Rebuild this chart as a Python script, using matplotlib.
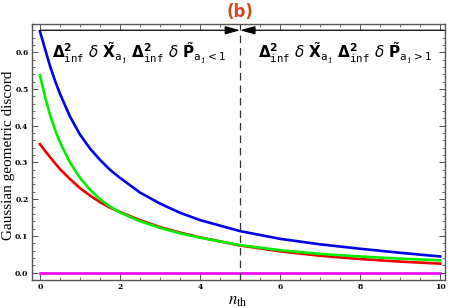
import numpy as np
import matplotlib
matplotlib.use("Agg")
import matplotlib.pyplot as plt
from matplotlib.ticker import MultipleLocator, FormatStrFormatter

# values
n_th = [0, 0.125, 0.25, 0.375, 0.5, 0.75, 1, 1.25, 1.5, 1.75, 2, 2.5, 3, 3.5, 4,
        5, 6, 7, 8, 9, 10]
blue = [0.657, 0.61, 0.563, 0.523, 0.487, 0.425, 0.376, 0.338, 0.307, 0.28,
        0.258, 0.218, 0.188, 0.163, 0.143, 0.113, 0.092, 0.077, 0.065, 0.054, 0.044]
green = [0.537, 0.48, 0.43, 0.39, 0.355, 0.3, 0.258, 0.226, 0.2, 0.18,
         0.164, 0.14, 0.122, 0.107, 0.095, 0.075, 0.061, 0.051, 0.044, 0.038, 0.0335]
red = [0.35, 0.332, 0.315, 0.298, 0.282, 0.255, 0.23, 0.21, 0.192, 0.177,
       0.165, 0.143, 0.124, 0.109, 0.096, 0.074, 0.058, 0.046, 0.037, 0.03, 0.0245]
magenta = [0.0] * len(n_th)
x_split = 5
arrow_y = 0.66

fig = plt.figure(figsize=(4.5, 3.08), dpi=100)
ax = fig.add_axes([0.071, 0.091, 0.918, 0.831])

ax.plot(n_th, blue, color='#0000ee', lw=1.9)
ax.plot(n_th, red, color='#ee0000', lw=1.9)
ax.plot(n_th, green, color='#00ee00', lw=1.9)
ax.plot(n_th, magenta, color='#ee00ee', lw=1.9)

ax.axvline(x_split, color='#333333', lw=0.9, ls=(0, (6, 4)))

# arrows pointing to the split
arr = dict(arrowstyle='-|>,head_length=0.9,head_width=0.25', color='k', lw=0.9,
           shrinkA=0, shrinkB=0)
ax.annotate('', xy=(x_split, arrow_y), xytext=(0, arrow_y), arrowprops=arr)
ax.annotate('', xy=(x_split, arrow_y), xytext=(10.1, arrow_y), arrowprops=arr)

lbl_left = r"$\mathbf{\Delta^2_{\mathtt{inf}}}\ \delta\ \tilde{\mathbf{X}}_{\mathtt{a_j}}\ \mathbf{\Delta^2_{\mathtt{inf}}}\ \delta\ \tilde{\mathbf{P}}_{\mathtt{a_j}<1}$"
lbl_right = r"$\mathbf{\Delta^2_{\mathtt{inf}}}\ \delta\ \tilde{\mathbf{X}}_{\mathtt{a_j}}\ \mathbf{\Delta^2_{\mathtt{inf}}}\ \delta\ \tilde{\mathbf{P}}_{\mathtt{a_j}>1}$"
ax.text(0.3, 0.597, lbl_left, fontsize=11, ha='left', va='center')
ax.text(5.45, 0.597, lbl_right, fontsize=11, ha='left', va='center')

ax.set_xlim(-0.2, 10.12)
ax.set_ylim(-0.02, 0.677)
ax.xaxis.set_major_locator(MultipleLocator(2))
ax.xaxis.set_minor_locator(MultipleLocator(0.5))
ax.yaxis.set_major_locator(MultipleLocator(0.1))
ax.yaxis.set_minor_locator(MultipleLocator(0.02))
ax.yaxis.set_major_formatter(FormatStrFormatter('%.1f'))
ax.tick_params(which='both', direction='in', top=True, right=True,
               color='#555555', labelsize=5.5, pad=2.5)
ax.tick_params(which='major', length=4, width=0.7)
ax.tick_params(which='minor', length=2, width=0.6)
for lab in ax.get_xticklabels() + ax.get_yticklabels():
    lab.set_family('DejaVu Serif')
    lab.set_fontweight('bold')
for s in ax.spines.values():
    s.set_color('#555555')
    s.set_linewidth(1.0)

fig.text(0.019, 0.497, 'Gaussian geometric discord', family='Liberation Serif',
         fontsize=11, rotation=90, ha='center', va='center')
fig.text(0.529, 0.025, r'$n_{\rm th}$', fontsize=12, math_fontfamily='stix',
         ha='center', va='center')
fig.text(0.533, 0.962, '(b)', color='#d4481e', fontsize=12, fontweight='bold',
         ha='center', va='center')

fig.savefig('out.png', dpi=100)
